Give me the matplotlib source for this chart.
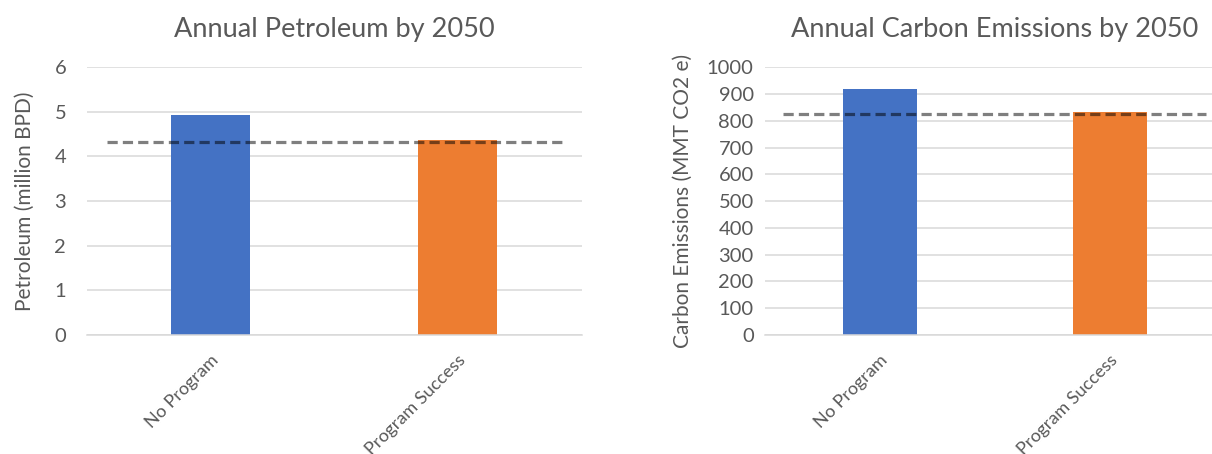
import matplotlib
matplotlib.use('Agg')
import matplotlib.pyplot as plt

categories = ['No Program', 'Program Success']
petroleum = [4.93, 4.37]
petroleum_target = 4.33
carbon = [920, 833]
carbon_target = 826
bar_colors = ['#4472C4', '#ED7D31']

plt.rcParams['font.family'] = ['Lato', 'DejaVu Sans']
TEXT = '#595959'
GRID = '#D9D9D9'


def draw(ax, values, target, ymax, step, title, ylabel, ypad, lpad):
    x = range(len(categories))
    ax.bar(x, values, width=0.32, color=bar_colors, zorder=2)
    ax.hlines(target, -0.42, len(categories) - 0.58, colors='black', alpha=0.5,
              linestyles=(0, (3.2, 1.6)), linewidth=2.3, zorder=3)
    ax.set_xlim(-0.5, len(categories) - 0.5)
    ax.set_ylim(0, ymax)
    ax.set_yticks(range(0, ymax + 1, step))
    ax.yaxis.grid(True, color=GRID, linewidth=1.1, zorder=0)
    ax.set_axisbelow(True)
    for s in ['top', 'right', 'left']:
        ax.spines[s].set_visible(False)
    ax.spines['bottom'].set_color(GRID)
    ax.spines['bottom'].set_linewidth(1.1)
    ax.tick_params(length=0, labelsize=14.5, colors=TEXT)
    ax.tick_params(axis='y', pad=ypad)
    ax.set_xticks(list(x))
    ax.set_xticklabels(categories, rotation=45, ha='right', rotation_mode='anchor',
                       fontsize=13, color=TEXT)
    ax.tick_params(axis='x', pad=12)
    ax.set_title(title, fontsize=19.5, color=TEXT, pad=22)
    ax.set_ylabel(ylabel, fontsize=15, color=TEXT, labelpad=lpad)


fig = plt.figure(figsize=(12.12, 4.54), dpi=100)
ax1 = fig.add_axes([0.0718, 0.262, 0.408, 0.590])
ax2 = fig.add_axes([0.631, 0.262, 0.3795, 0.590])

draw(ax1, petroleum, petroleum_target, 6, 1,
     'Annual Petroleum by 2050', 'Petroleum (million BPD)', 15, 14)
draw(ax2, carbon, carbon_target, 1000, 100,
     'Annual Carbon Emissions by 2050', 'Carbon Emissions (MMT CO2 e)', 8, 10)

fig.savefig('out.png', dpi=100)
